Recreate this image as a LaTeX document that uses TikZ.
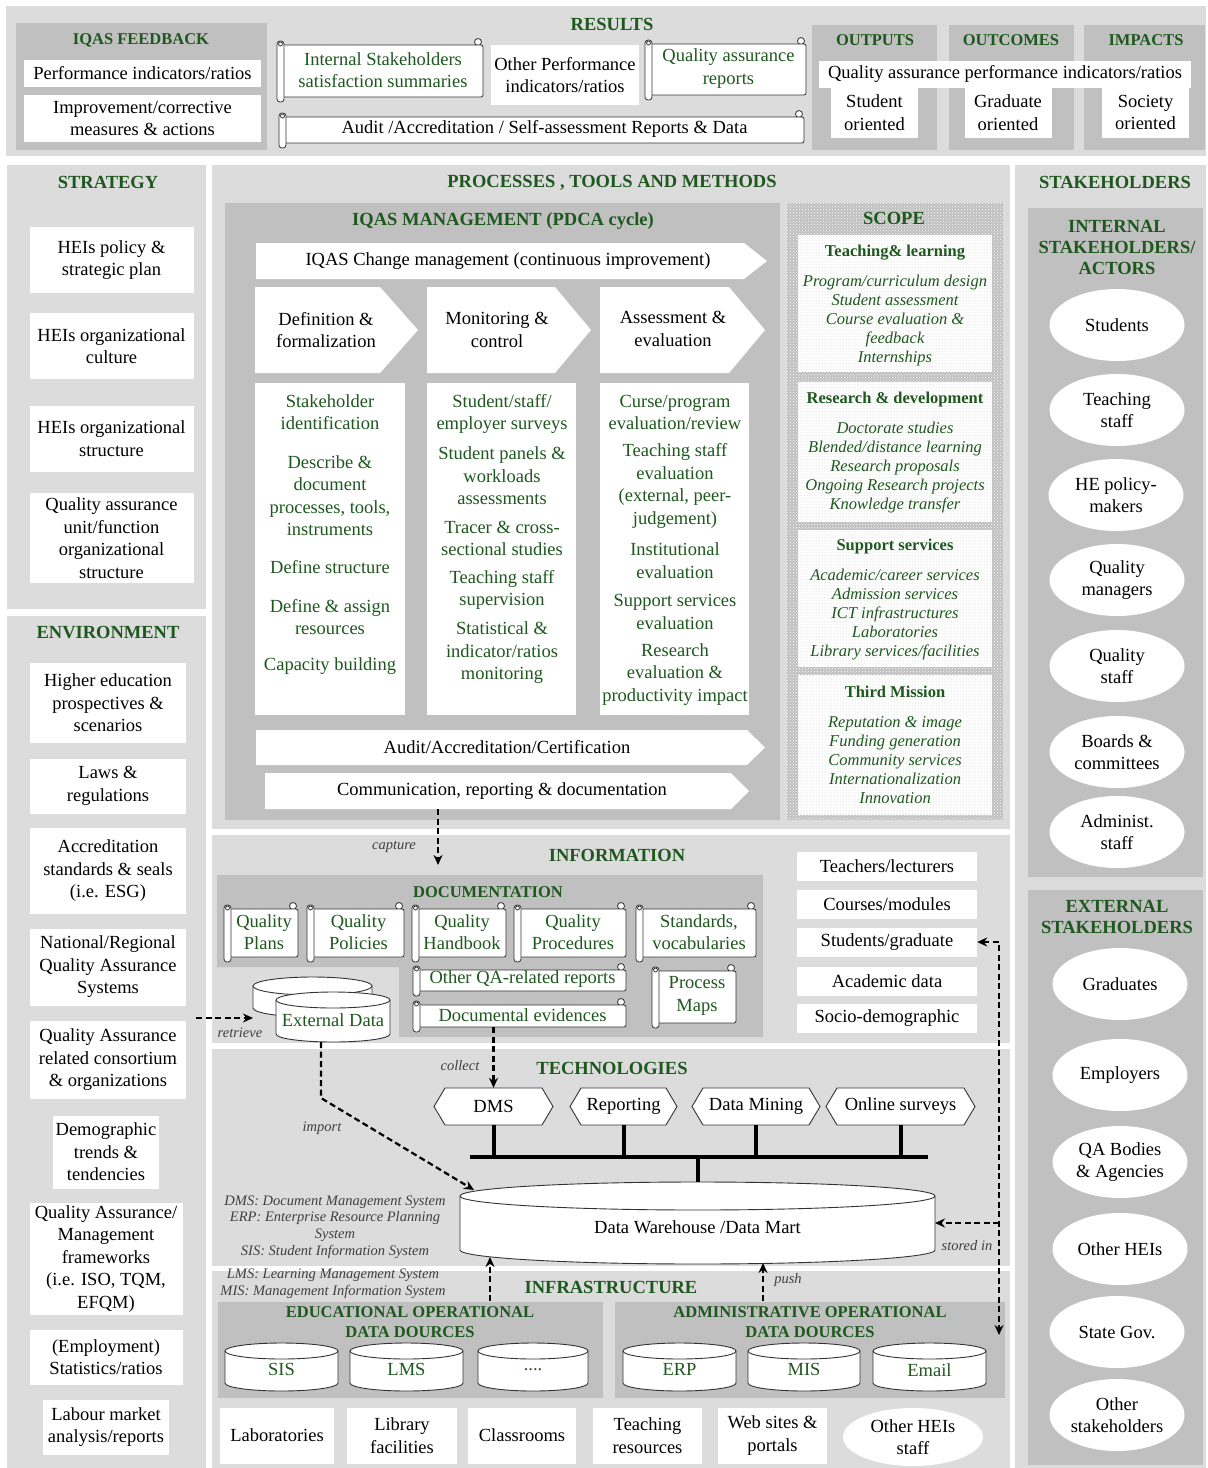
\documentclass[tikz,border=0pt]{standalone}
\usepackage{fontspec}
\setmainfont{Liberation Serif}
\usetikzlibrary{arrows.meta,patterns,shapes.geometric,calc}
\definecolor{dgreen}{RGB}{30,88,30}
\definecolor{bglight}{RGB}{220,220,220}
\definecolor{bgdark}{RGB}{192,192,192}
\newcommand\FtMain{\fontsize{18.5}{22.5}\selectfont}
\newcommand\FtHead{\fontsize{18.5}{21}\selectfont\bfseries}
\newcommand\FtSub{\fontsize{16.5}{19.5}\selectfont\bfseries}
\newcommand\FtIt{\fontsize{16.5}{19}\selectfont\itshape}
\newcommand\FtSmall{\fontsize{14.5}{16.8}\selectfont\itshape}
% scroll: name, x1, y1, x2, y2, colour, text
\newcommand\MyScroll[7]{%
  \draw[scr] (#4-5,#3+4) circle[radius=3.5];
  \draw[scr,rounded corners=2pt] (#2+5,#3+7) rectangle (#4,#5-5);
  \draw[scr,rounded corners=3pt] (#2,#3+3) rectangle (#2+7,#5);
  \draw[scr] (#2+3.5,#3+6) circle[radius=2];
  \node[txt,text=#6] (#1) at ({(#2+#4)/2+3},{(#3+#5)/2}) {#7};
  \coordinate (#1B) at ({(#2+#4)/2+3},{#5-5});
}
% cylinder: name, x1, x2, ytop, ybot, ry, colour, text
\newcommand\MyCyl[8]{%
  \draw[cyls] (#2,#4) -- (#2,#5) arc[start angle=180,end angle=0,x radius={(#3-#2)/2},y radius=#6]
     -- (#3,#4) arc[start angle=0,end angle=-180,x radius={(#3-#2)/2},y radius=#6] -- cycle;
  \draw[cyls,fill=none] (#2,#4) arc[start angle=180,end angle=0,x radius={(#3-#2)/2},y radius=#6];
  \node[txt,text=#7] (#1) at ({(#2+#3)/2},{(#4+#5)/2+#6/3}) {#8};
  \coordinate (#1T) at ({(#2+#3)/2},{#4-#6});
  \coordinate (#1B) at ({(#2+#3)/2},{#5+#6});
  \coordinate (#1W) at (#2,{(#4+#5)/2});
  \coordinate (#1E) at (#3,{(#4+#5)/2});
}
% hexagon: name, x1, x2, text
\newcommand\MyHex[4]{%
  \draw[hexs] (#2,1106.5) -- (#2+11,1088) -- (#3-11,1088) -- (#3,1106.5) -- (#3-11,1125) -- (#2+11,1125) -- cycle;
  \node[txt,minimum height=37pt] (#1) at ({(#2+#3)/2},1106.5) {#4};
}
\begin{document}
\begin{tikzpicture}[x=1pt,y=-1pt,
  txt/.style={font=\FtMain,align=center,inner sep=0pt},
  gtxt/.style={txt,text=dgreen},
  box/.style={txt,fill=white},
  hd/.style={font=\FtHead,text=dgreen,inner sep=0pt,align=center},
  sh/.style={font=\FtSub,text=dgreen,inner sep=0pt,align=center},
  itx/.style={font=\FtIt,text=dgreen,inner sep=0pt,align=center},
  lbl/.style={font=\FtSmall,text=black!75,inner sep=0pt,align=center},
  scr/.style={draw=black!80,line width=0.8pt,fill=white},
  cyls/.style={draw=black!80,line width=0.9pt,fill=white},
  hexs/.style={draw=black!80,line width=0.9pt,fill=white},
  arr/.style={fill=white},
  ell/.style={ellipse,fill=white,inner sep=0pt,font=\FtMain,align=center,minimum width=135pt,minimum height=72pt},
  dasharrow/.style={line width=2.2pt,dash pattern=on 6pt off 3.5pt,-{Stealth[length=10pt,width=9pt]}},
  dasharrowboth/.style={line width=2.2pt,dash pattern=on 6pt off 3.5pt,{Stealth[length=10pt,width=9pt]}-{Stealth[length=10pt,width=9pt]}},
  bus/.style={line width=4pt},
  scopebox/.style={fill=white,postaction={pattern=dots,pattern color=gray!45}}]
\fill[white] (0,0) rectangle (1208,1468);
\useasboundingbox (0,0) rectangle (1208,1468);

% ================= RESULTS =================
\fill[bglight] (6,6) rectangle (1206,156);
\fill[bgdark] (16,23) rectangle (267,150);
\node[sh] (fbT) at (141,40) {IQAS FEEDBACK};
\node[box,minimum width=237pt,minimum height=27pt] (fb1) at (142.5,73.5) {Performance indicators/ratios};
\node[box,minimum width=237pt,minimum height=47pt] (fb2) at (142.5,118.5) {Improvement/corrective\\measures \& actions};
\node[hd] (resT) at (612,24) {RESULTS};
\MyScroll{iss}{277}{38}{483}{102}{dgreen}{Internal Stakeholders\\satisfaction summaries}
\node[box,minimum width=148pt,minimum height=60pt] (opi) at (565,75) {Other Performance\\indicators/ratios};
\MyScroll{qar}{645}{37}{806}{100}{dgreen}{Quality assurance\\reports}
\MyScroll{aud}{279}{110}{804}{148}{black}{Audit /Accreditation / Self-assessment Reports \& Data}
\fill[bgdark] (812,25) rectangle (937,150);
\fill[bgdark] (949,25) rectangle (1074,150);
\fill[bgdark] (1084,25) rectangle (1205,150);
\node[sh] (outT) at (875,40) {OUTPUTS};
\node[sh] (outcT) at (1011,40) {OUTCOMES};
\node[sh] (impT) at (1146,40) {IMPACTS};
\node[box,minimum width=87pt,minimum height=51pt] (so) at (874.5,112.5) {Student\\oriented};
\node[box,minimum width=87pt,minimum height=51pt] (go) at (1008,112.5) {Graduate\\oriented};
\node[box,minimum width=87pt,minimum height=51pt] (sco) at (1145.5,112.5) {Society\\oriented};
\node[box,minimum width=372pt,minimum height=27pt] (qapi) at (1005,74) {Quality assurance performance indicators/ratios};

% ================= STRATEGY =================
\fill[bglight] (7,165) rectangle (206,609);
\node[hd] (strT) at (108,182) {STRATEGY};
\node[box,minimum width=164pt,minimum height=66pt] (s1) at (111.5,260) {HEIs policy \&\\strategic plan};
\node[box,minimum width=164pt,minimum height=66pt] (s2) at (111.5,346) {HEIs organizational\\culture};
\node[box,minimum width=164pt,minimum height=66pt] (s3) at (111.5,438.5) {HEIs organizational\\structure};
\node[box,minimum width=164pt,minimum height=90pt] (s4) at (111.5,538) {Quality assurance\\unit/function\\organizational\\structure};

% ================= ENVIRONMENT =================
\fill[bglight] (7,616) rectangle (206,1468);
\node[hd] (envT) at (108,633) {ENVIRONMENT};
\node[box,minimum width=156pt,minimum height=80pt] (e1) at (108,703) {Higher education\\prospectives \&\\scenarios};
\node[box,minimum width=156pt,minimum height=55pt] (e2) at (108,786) {Laws \&\\regulations};
\node[box,minimum width=156pt,minimum height=86pt] (e3) at (108,871) {Accreditation\\standards \& seals\\(i.e. ESG)};
\node[box,minimum width=156pt,minimum height=77pt] (e4) at (108,967) {National/Regional\\Quality Assurance\\Systems};
\node[box,minimum width=156pt,minimum height=78pt] (e5) at (108,1060) {Quality Assurance\\related consortium\\\& organizations};
\node[box,minimum width=106pt,minimum height=73pt] (e6) at (106,1152) {Demographic\\trends \&\\tendencies};
\node[box,minimum width=153pt,minimum height=112pt] (e7) at (106,1259) {Quality Assurance/\\Management\\frameworks\\(i.e. ISO, TQM,\\EFQM)};
\node[box,minimum width=153pt,minimum height=55pt] (e8) at (106,1357) {(Employment)\\Statistics/ratios};
\node[box,minimum width=126pt,minimum height=55pt] (e9) at (106,1427) {Labour market\\analysis/reports};

% ================= PROCESSES =================
\fill[bglight] (212,165) rectangle (1010,829);
\node[hd] (procT) at (612,183) {PROCESSES , TOOLS AND METHODS};
\fill[bgdark] (225,203) rectangle (780,820);
\node[hd] (mgmtT) at (503,221) {IQAS MANAGEMENT (PDCA cycle)};
\fill[arr] (256,243) -- (744,243) -- (767,261) -- (744,279) -- (256,279) -- cycle;
\node[txt,minimum height=36pt] (chg) at (508,261) {IQAS Change management (continuous improvement)};
\fill[arr] (255,287) -- (380,287) -- (418,330) -- (380,373) -- (255,373) -- cycle;
\node[txt] (def) at (326,330) {Definition \&\\formalization};
\fill[arr] (427,287) -- (555,287) -- (591,330) -- (555,373) -- (427,373) -- cycle;
\node[txt] (mon) at (497,330) {Monitoring \&\\control};
\fill[arr] (600,287) -- (729,287) -- (765,330) -- (729,373) -- (600,373) -- cycle;
\node[txt] (ass) at (673,329) {Assessment \&\\evaluation};
\fill[white] (255,383) rectangle (405,715);
\fill[white] (427,383) rectangle (576,715);
\fill[white] (600,383) rectangle (749,715);
\node[gtxt] (c1a) at (330,412) {Stakeholder\\identification};
\node[gtxt] (c1b) at (330,495.5) {Describe \&\\document\\processes, tools,\\instruments};
\node[gtxt] (c1c) at (330,567) {Define structure};
\node[gtxt] (c1d) at (330,617) {Define \& assign\\resources};
\node[gtxt] (c1e) at (330,666) {Capacity building};
\node[gtxt] (c2a) at (502,414) {Student/staff/\\employer surveys};
\node[gtxt] (c2b) at (502,476) {Student panels \&\\workloads\\assessments};
\node[gtxt] (c2c) at (502,538.5) {Tracer \& cross-\\sectional studies};
\node[gtxt] (c2d) at (502,590) {Teaching staff\\supervision};
\node[gtxt] (c2e) at (502,653) {Statistical \&\\indicator/ratios\\monitoring};
\node[gtxt] (c3a) at (675,412.5) {Curse/program\\evaluation/review};
\node[gtxt] (c3b) at (675,486) {Teaching staff\\evaluation\\(external, peer-\\judgement)};
\node[gtxt] (c3c) at (675,560.5) {Institutional\\evaluation};
\node[gtxt] (c3d) at (675,612) {Support services\\evaluation};
\node[gtxt] (c3e) at (675,674.5) {Research\\evaluation \&\\productivity impact};
\fill[arr] (256,730) -- (747,730) -- (765,747.5) -- (747,765) -- (256,765) -- cycle;
\node[txt,minimum height=35pt] (aac) at (507,747.5) {Audit/Accreditation/Certification};
\fill[arr] (265,773) -- (731,773) -- (749,791) -- (731,809) -- (265,809) -- cycle;
\node[txt,minimum height=36pt] (comm) at (502,791) {Communication, reporting \& documentation};

% SCOPE
\fill[gray!50] (787,203) rectangle (1003,820);
\fill[pattern=crosshatch dots,pattern color=white] (787,203) rectangle (1003,820);
\node[hd] (scT) at (894,218) {SCOPE};
\path[scopebox] (798,235) rectangle (992,372);
\node[sh] (tlH) at (895,253) {Teaching\& learning};
\node[itx] (tlI) at (895,321) {Program/curriculum design\\Student assessment\\Course evaluation \&\\feedback\\Internships};
\path[scopebox] (798,382) rectangle (992,522);
\node[sh] (rdH) at (895,400) {Research \& development};
\node[itx] (rdI) at (895,468) {Doctorate studies\\Blended/distance learning\\Research proposals\\Ongoing Research projects\\Knowledge transfer};
\path[scopebox] (798,530) rectangle (992,667);
\node[sh] (ssH) at (895,547) {Support services};
\node[itx] (ssI) at (895,615) {Academic/career services\\Admission services\\ICT infrastructures\\Laboratories\\Library services/facilities};
\path[scopebox] (798,675) rectangle (992,815);
\node[sh] (tmH) at (895,692) {Third Mission};
\node[itx] (tmI) at (895,760.5) {Reputation \& image\\Funding generation\\Community services\\Internationalization\\Innovation};

% ================= INFORMATION =================
\fill[bglight] (212,835) rectangle (1010,1043);
\node[hd] (infT) at (617,855) {INFORMATION};
\fill[bgdark] (217,875) -- (763,875) -- (763,1037) -- (399,1037) -- (399,967) -- (217,967) -- cycle;
\node[sh] (docT) at (488,892) {DOCUMENTATION};
\MyScroll{qpl}{224}{902}{298}{962}{dgreen}{Quality\\Plans}
\MyScroll{qpo}{307}{902}{404}{962}{dgreen}{Quality\\Policies}
\MyScroll{qhb}{412}{902}{506}{962}{dgreen}{Quality\\Handbook}
\MyScroll{qpr}{514}{902}{626}{962}{dgreen}{Quality\\Procedures}
\MyScroll{std}{636}{902}{756}{962}{dgreen}{Standards,\\vocabularies}
\MyScroll{oqa}{413}{963}{626}{996}{dgreen}{Other QA-related reports}
\MyScroll{docev}{413}{998}{626}{1032}{dgreen}{Documental evidences}
\MyScroll{pmap}{652}{964}{736}{1028}{dgreen}{Process\\Maps}
\MyCyl{extB}{253}{372}{986}{1008}{9}{dgreen}{}
\MyCyl{extF}{276}{390}{1000}{1034}{8}{dgreen}{External Data}
\node[box,minimum width=180pt,minimum height=29pt] (tle) at (887,866.5) {Teachers/lecturers};
\node[box,minimum width=180pt,minimum height=29pt] (cmo) at (887,904) {Courses/modules};
\node[box,minimum width=180pt,minimum height=29pt] (sgr) at (887,942) {Students/graduate};
\node[box,minimum width=180pt,minimum height=29pt] (acd) at (887,981) {Academic data};
\node[box,minimum width=180pt,minimum height=29pt] (sdm) at (887,1018) {Socio-demographic};

% ================= TECHNOLOGIES =================
\fill[bglight] (212,1049) rectangle (1010,1266);
\node[hd] (tecT) at (612,1068) {TECHNOLOGIES};
\MyHex{dms}{434}{553}{DMS}
\MyHex{rep}{570}{677}{Reporting}
\MyHex{dmi}{692}{820}{Data Mining}
\MyHex{ons}{826}{975}{Online surveys}
\MyCyl{dw}{460}{935}{1196}{1250}{14}{black}{Data Warehouse /Data Mart}
\coordinate (busL) at (470,1157);
\coordinate (busR) at (928,1157);
\draw[bus] (busL) -- (busR);
\draw[bus] (dms.south) -- (dms.south |- busL);
\draw[bus] (rep.south) -- (rep.south |- busL);
\draw[bus] (dmi.south) -- (dmi.south |- busL);
\draw[bus] (ons.south) -- (ons.south |- busL);
\draw[bus] (dwT |- busL) -- (dwT);
\node[lbl] (leg1) at (335,1227) {DMS: Document Management System\\ERP: Enterprise Resource Planning\\System\\SIS: Student Information System};

% ================= INFRASTRUCTURE =================
\fill[bglight] (212,1271) rectangle (1010,1468);
\node[hd] (infrT) at (611,1287) {INFRASTRUCTURE};
\node[lbl] (leg2) at (333,1284) {LMS: Learning Management System\\MIS: Management Information System};
\fill[bgdark] (218,1302) rectangle (603,1398);
\fill[bgdark] (615,1302) rectangle (1005,1398);
\node[sh] (eduT) at (410,1322) {EDUCATIONAL OPERATIONAL\\DATA DOURCES};
\node[sh] (admT) at (810,1322) {ADMINISTRATIVE OPERATIONAL\\DATA DOURCES};
\MyCyl{sis}{225}{338}{1351}{1383}{8}{dgreen}{SIS}
\MyCyl{lms}{350}{463}{1351}{1383}{8}{dgreen}{LMS}
\MyCyl{dots}{478}{588}{1351}{1383}{8}{dgreen}{....}
\MyCyl{erp}{623}{736}{1351}{1383}{8}{dgreen}{ERP}
\MyCyl{mis}{748}{860}{1351}{1383}{8}{dgreen}{MIS}
\MyCyl{eml}{873}{986}{1351}{1383}{8}{dgreen}{Email}
\node[box,minimum width=114pt,minimum height=56pt] (lab) at (277,1435.5) {Laboratories};
\node[box,minimum width=110pt,minimum height=56pt] (lib) at (402,1435.5) {Library\\facilities};
\node[box,minimum width=108pt,minimum height=56pt] (cls) at (522,1435.5) {Classrooms};
\node[box,minimum width=109pt,minimum height=56pt] (tres) at (647.5,1435.5) {Teaching\\resources};
\node[box,minimum width=109pt,minimum height=56pt] (web) at (772.5,1435.5) {Web sites \&\\portals};
\node[ell,minimum width=140pt,minimum height=58pt] (ohs) at (913,1437) {Other HEIs\\staff};

% ================= STAKEHOLDERS =================
\fill[bglight] (1015,165) rectangle (1206,1468);
\node[hd] (stkT) at (1115,182) {STAKEHOLDERS};
\fill[bgdark] (1028,208) rectangle (1203,877);
\node[hd] (intT) at (1117,247) {INTERNAL\\STAKEHOLDERS/\\ACTORS};
\node[ell] (stu) at (1117,325) {Students};
\node[ell] (tst) at (1117,410) {Teaching\\staff};
\node[ell] (hep) at (1116,495) {HE policy-\\makers};
\node[ell] (qma) at (1117,580) {Quality\\managers};
\node[ell] (qst) at (1117,666) {Quality\\staff};
\node[ell] (boc) at (1117,752) {Boards \&\\committees};
\node[ell] (ads) at (1117,832) {Administ.\\staff};
\fill[bgdark] (1028,890) rectangle (1203,1465);
\node[hd] (extT) at (1117,917) {EXTERNAL\\STAKEHOLDERS};
\node[ell] (gra) at (1120,984) {Graduates};
\node[ell] (emp) at (1120,1075) {Employers};
\node[ell] (qab) at (1120,1162) {QA Bodies\\\& Agencies};
\node[ell] (oth) at (1120,1249) {Other HEIs};
\node[ell] (sgv) at (1117,1332) {State Gov.};
\node[ell] (ost) at (1117,1415) {Other\\stakeholders};

% ================= CONNECTORS =================
\coordinate (capT) at (438,865);
\draw[dasharrow] (comm.south -| capT) -- (capT);
\node[lbl] (capL) at (394,847) {capture};
\coordinate (retS) at (196,1018);
\draw[dasharrow] (retS) -- (retS -| extBW);
\node[lbl] (retL) at (240,1033) {retrieve};
\draw[dasharrow] (dms.north |- docevB) -- (dms.north);
\node[lbl] (colL) at (460,1066) {collect};
\coordinate (impB) at (321,1098);
\coordinate (dwNW) at (474,1190);
\draw[dasharrow] (impB |- extFB) -- (impB) -- (dwNW);
\node[lbl] (impL) at (322,1128) {import};
\coordinate (vTop) at (999,942);
\coordinate (vBot) at (999,1335);
\draw[dasharrowboth] (sgr.east) -- (sgr.east -| vTop) -- (vBot);
\draw[dasharrow] (dwE -| vTop) -- (dwE);
\node[lbl] (stoL) at (967,1246) {stored in};
\coordinate (pushL) at (490,1301);
\coordinate (pushR) at (763,1301);
\coordinate (dwBL) at (490,1257);
\coordinate (dwBR) at (763,1263);
\draw[dasharrow] (pushL) -- (dwBL);
\draw[dasharrow] (pushR) -- (dwBR);
\node[lbl] (pushLb) at (788,1280) {push};
\end{tikzpicture}
\end{document}
